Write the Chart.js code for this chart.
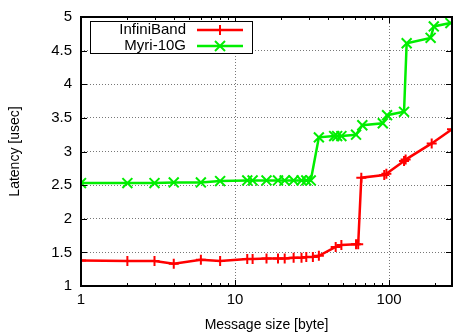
<!DOCTYPE html>
<html>
<head>
<meta charset="utf-8">
<script src="https://cdn.jsdelivr.net/npm/chart.js@4.4.0/dist/chart.umd.min.js"></script>
<style>
html, body { margin: 0; padding: 0; background: #fff; }
</style>
</head>
<body>
<canvas id="myChart" width="453" height="334"></canvas>
<script>
// message sizes [byte] and latency [usec]

const ibSize = [1, 2, 3, 4, 6, 8, 12, 13, 16, 19, 21, 24, 27, 29, 32, 35, 45, 49, 61, 63, 66, 93, 96, 125, 128, 189, 256]
const ibLat = [1.38, 1.37, 1.37, 1.33, 1.39, 1.37, 1.40, 1.40, 1.41, 1.41, 1.41, 1.42, 1.42, 1.43, 1.43, 1.45,
    1.58, 1.61, 1.62, 1.62, 2.61, 2.65, 2.67, 2.86, 2.88, 3.12, 3.33]

const myriSize = [1, 2, 3, 4, 6, 8, 12, 13, 16, 19, 21, 24, 27, 29, 31, 35, 44, 46, 49, 61, 67, 91, 97, 125, 130, 186, 195, 250]
const myriLat = [2.53, 2.53, 2.53, 2.54, 2.54, 2.56, 2.57, 2.57, 2.57, 2.57, 2.57, 2.57, 2.57, 2.57, 2.57,
    3.21, 3.23, 3.23, 3.23, 3.25, 3.39, 3.42, 3.54, 3.59, 4.61, 4.69, 4.86, 4.91]

const xTicks = [1, 10, 100]
const xMinorTicks = [2, 3, 4, 5, 6, 7, 8, 9, 20, 30, 40, 50, 60, 70, 80, 90, 200]
const yTicks = [1, 1.5, 2, 2.5, 3, 3.5, 4, 4.5, 5]

const FONT = '"Liberation Sans", Arial, Helvetica, sans-serif'
Chart.defaults.font.family = FONT
Chart.defaults.color = '#000'

function seg(ctx, x1, y1, x2, y2) {
    ctx.beginPath()
    ctx.moveTo(x1, y1)
    ctx.lineTo(x2, y2)
    ctx.stroke()
}

// gnuplot style border, inward ticks and key box
const gnuFrame = {
    id: 'gnuFrame',
    afterDatasetsDraw(chart) {
        const { ctx, chartArea: a, scales: { x, y } } = chart
        ctx.save()
        ctx.strokeStyle = '#000'
        ctx.lineWidth = 1
        yTicks.forEach(v => {
            const py = Math.round(y.getPixelForValue(v)) + 0.5
            seg(ctx, a.left, py, a.left + 6, py)
            seg(ctx, a.right - 6, py, a.right, py)
        })
        xTicks.forEach(v => {
            const px = Math.round(x.getPixelForValue(v)) + 0.5
            seg(ctx, px, a.bottom, px, a.bottom - 6)
            seg(ctx, px, a.top, px, a.top + 6)
        })
        xMinorTicks.forEach(v => {
            const px = Math.round(x.getPixelForValue(v)) + 0.5
            seg(ctx, px, a.bottom, px, a.bottom - 3)
            seg(ctx, px, a.top, px, a.top + 3)
        })
        ctx.lineWidth = 2
        ctx.strokeRect(a.left, a.top, a.right - a.left, a.bottom - a.top)

        // key
        const kx = a.left + 9, ky = a.top + 4, kw = 162, kh = 32
        ctx.fillStyle = '#fff'
        ctx.fillRect(kx, ky, kw, kh)
        ctx.lineWidth = 1
        ctx.strokeRect(kx + 0.5, ky + 0.5, kw, kh)
        ctx.font = '15px ' + FONT
        ctx.textAlign = 'right'
        ctx.textBaseline = 'middle'
        chart.data.datasets.forEach((ds, i) => {
            const ry = ky + 9 + i * 16
            ctx.fillStyle = '#000'
            ctx.fillText(ds.label, kx + 96, ry)
            ctx.strokeStyle = ds.borderColor
            ctx.lineWidth = 2.5
            seg(ctx, kx + 107, ry, kx + 153, ry)
            const cx = kx + 130
            ctx.lineWidth = 2
            if (ds.pointStyle === 'cross') {
                seg(ctx, cx - 5, ry, cx + 5, ry)
                seg(ctx, cx, ry - 5, cx, ry + 5)
            } else {
                seg(ctx, cx - 5, ry - 5, cx + 5, ry + 5)
                seg(ctx, cx - 5, ry + 5, cx + 5, ry - 5)
            }
        })
        ctx.restore()
    }
}

const ctx = document.getElementById('myChart').getContext('2d')
const myChart = new Chart(ctx, {
    type: 'line',
    data: {
        datasets: [{
            label: 'InfiniBand',
            data: ibSize.map((s, i) => ({ x: s, y: ibLat[i] })),
            borderColor: '#ff0000',
            backgroundColor: '#ff0000',
            borderWidth: 2.5,
            pointStyle: 'cross',
            pointRadius: 5,
            pointBorderWidth: 2,
            tension: 0
        }, {
            label: 'Myri-10G',
            data: myriSize.map((s, i) => ({ x: s, y: myriLat[i] })),
            borderColor: '#00ee00',
            backgroundColor: '#00ee00',
            borderWidth: 2.5,
            pointStyle: 'crossRot',
            pointRadius: 7,
            pointBorderWidth: 2,
            tension: 0
        }]
    },
    options: {
        responsive: false,
        animation: false,
        layout: { autoPadding: false, padding: { top: 17, right: 1, left: 0, bottom: 0 } },
        plugins: {
            legend: { display: false },
            tooltip: { enabled: false }
        },
        scales: {
            x: {
                type: 'logarithmic',
                min: 1,
                max: 256,
                afterBuildTicks: s => { s.ticks = xTicks.map(v => ({ value: v })) },
                afterFit: s => {
                    s.height = 48
                    s.paddingLeft = 0
                    s.paddingRight = 0
                },
                ticks: {
                    callback: v => String(v),
                    font: { size: 15 },
                    color: '#000',
                    padding: 5,
                    autoSkip: false,
                    maxRotation: 0
                },
                grid: { color: '#777', lineWidth: 1, drawTicks: false },
                border: { display: false, dash: [1, 2] },
                title: {
                    display: true,
                    text: 'Message size [byte]',
                    font: { size: 14 },
                    color: '#000',
                    padding: { top: 0, bottom: 0 }
                }
            },
            y: {
                type: 'linear',
                min: 1,
                max: 5,
                afterBuildTicks: s => { s.ticks = yTicks.map(v => ({ value: v })) },
                afterFit: s => {
                    s.width = 81
                    s.paddingTop = 0
                    s.paddingBottom = 0
                },
                ticks: {
                    callback: v => String(v),
                    font: { size: 15 },
                    color: '#000',
                    padding: 9
                },
                grid: { color: '#777', lineWidth: 1, drawTicks: false },
                border: { display: false, dash: [1, 2] },
                title: {
                    display: true,
                    text: 'Latency [usec]',
                    font: { size: 14 },
                    color: '#000',
                    padding: { top: 7, bottom: 0 }
                }
            }
        }
    },
    plugins: [gnuFrame]
})
</script>
</body>
</html>
